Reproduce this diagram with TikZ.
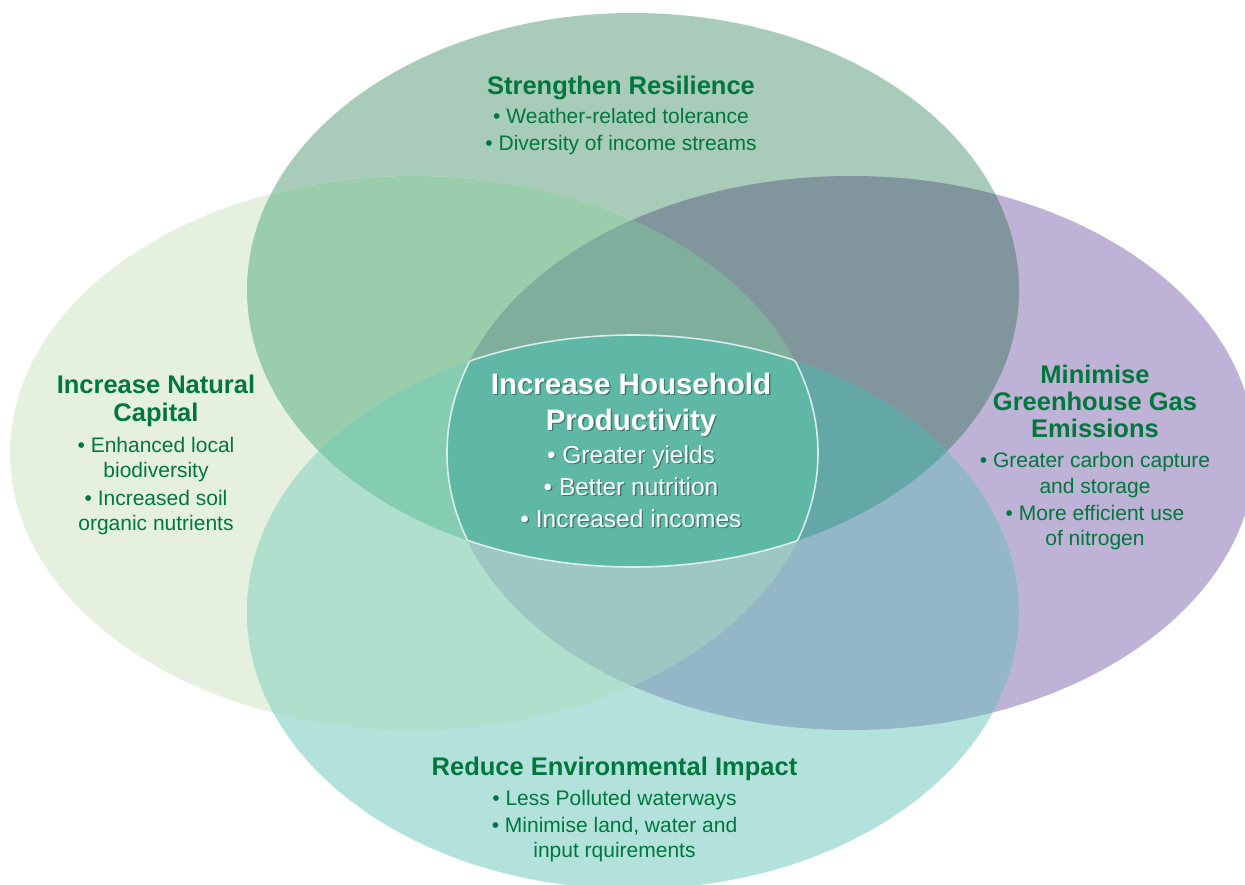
\documentclass[tikz,border=0pt]{standalone}
\usepackage{fontspec}
\setmainfont{Liberation Sans}
\usepackage{tikz}

% region colours of the four-way overlap
\definecolor{cT}{HTML}{A8CBBA}
\definecolor{cL}{HTML}{E6F0DE}
\definecolor{cR}{HTML}{BEB2D6}
\definecolor{cB}{HTML}{B2E2DB}
\definecolor{cTL}{HTML}{99CDAB}
\definecolor{cTR}{HTML}{80959C}
\definecolor{cBL}{HTML}{B0DFCE}
\definecolor{cBR}{HTML}{94B7C8}
\definecolor{cTLR}{HTML}{80AE9D}
\definecolor{cTLB}{HTML}{84CDB0}
\definecolor{cTRB}{HTML}{64A7A7}
\definecolor{cBLR}{HTML}{9CC7C3}
\definecolor{cQ}{HTML}{5EB8A5}
\definecolor{tgreen}{HTML}{00773C}
\definecolor{cShadow}{HTML}{3A7A6C}

\newcommand\shd[1]{\rlap{\hspace{1.4pt}\raisebox{-1.4pt}{\color{cShadow}#1}}#1}

\tikzset{
  pT/.style={insert path={(633,290) ellipse [x radius=386pt, y radius=277pt]}},
  pB/.style={insert path={(633,612) ellipse [x radius=386pt, y radius=277pt]}},
  pL/.style={insert path={(414,453) ellipse [x radius=404pt, y radius=277pt]}},
  pR/.style={insert path={(851,453) ellipse [x radius=404pt, y radius=277pt]}},
  head/.style={anchor=base, inner sep=0pt, text=tgreen,
    font=\fontsize{25.5}{30}\selectfont\bfseries},
  item/.style={anchor=base, inner sep=0pt, text=tgreen,
    font=\fontsize{21}{25}\selectfont},
  chead/.style={anchor=base, inner sep=0pt, text=white,
    font=\fontsize{29.5}{34}\selectfont\bfseries},
  citem/.style={anchor=base, inner sep=0pt, text=white,
    font=\fontsize{24.5}{29}\selectfont},
  rim/.style={draw=white, draw opacity=0.75, line width=1.6pt}
}

\begin{document}
\begin{tikzpicture}[x=1pt, y=-1pt]
\useasboundingbox (0,0) rectangle (1245,884);
\begin{scope}
\clip (0,0) rectangle (1245,884);

% single ellipses
\fill[cT, pT];
\fill[cL, pL];
\fill[cR, pR];
\fill[cB, pB];

% pairwise overlaps
\begin{scope}\clip[pT]; \fill[cTL, pL];\end{scope}
\begin{scope}\clip[pT]; \fill[cTR, pR];\end{scope}
\begin{scope}\clip[pB]; \fill[cBL, pL];\end{scope}
\begin{scope}\clip[pB]; \fill[cBR, pR];\end{scope}

% triple overlaps
\begin{scope}\clip[pT]; \clip[pL]; \fill[cTLR, pR];\end{scope}
\begin{scope}\clip[pT]; \clip[pL]; \fill[cTLB, pB];\end{scope}
\begin{scope}\clip[pT]; \clip[pR]; \fill[cTRB, pB];\end{scope}
\begin{scope}\clip[pB]; \clip[pL]; \fill[cBLR, pR];\end{scope}

% central region shared by all four
\begin{scope}\clip[pT]; \clip[pB]; \clip[pL]; \fill[cQ, pR];\end{scope}

% white rim of the central region
\begin{scope}\clip[pT]; \clip[pL]; \clip[pR]; \path[rim, pB];\end{scope}
\begin{scope}\clip[pB]; \clip[pL]; \clip[pR]; \path[rim, pT];\end{scope}
\begin{scope}\clip[pT]; \clip[pB]; \clip[pR]; \path[rim, pL];\end{scope}
\begin{scope}\clip[pT]; \clip[pB]; \clip[pL]; \path[rim, pR];\end{scope}
\end{scope}

% Strengthen Resilience
\node[head] (t0) at (621,94.5) {Strengthen Resilience};
\node[item] (t1) at (621,123) {• Weather-related tolerance};
\node[item] (t2) at (621,150) {• Diversity of income streams};

% Increase Natural Capital
\node[head] (l0) at (156,393) {Increase Natural};
\node[head] (l1) at (156,421) {Capital};
\node[item] (l2) at (156,452) {• Enhanced local};
\node[item] (l3) at (156,477) {biodiversity};
\node[item] (l4) at (156,505) {• Increased soil};
\node[item] (l5) at (156,530) {organic nutrients};

% Minimise Greenhouse Gas Emissions
\node[head] (r0) at (1095,383) {Minimise};
\node[head] (r1) at (1095,410) {Greenhouse Gas};
\node[head] (r2) at (1095,437) {Emissions};
\node[item] (r3) at (1095,467) {• Greater carbon capture};
\node[item] (r4) at (1095,493) {and storage};
\node[item] (r5) at (1095,520) {• More efficient use};
\node[item] (r6) at (1095,545) {of nitrogen};

% Reduce Environmental Impact
\node[head] (b0) at (614.5,775) {Reduce Environmental Impact};
\node[item] (b1) at (614.5,805) {• Less Polluted waterways};
\node[item] (b2) at (614.5,832) {• Minimise land, water and};
\node[item] (b3) at (614.5,857) {input rquirements};

% Increase Household Productivity
\node[chead] (c0) at (631,394) {\shd{Increase Household}};
\node[chead] (c1) at (631,430) {\shd{Productivity}};
\node[citem] (c2) at (631,463) {\shd{• Greater yields}};
\node[citem] (c3) at (631,495) {\shd{• Better nutrition}};
\node[citem] (c4) at (631,527) {\shd{• Increased incomes}};
\end{tikzpicture}
\end{document}
